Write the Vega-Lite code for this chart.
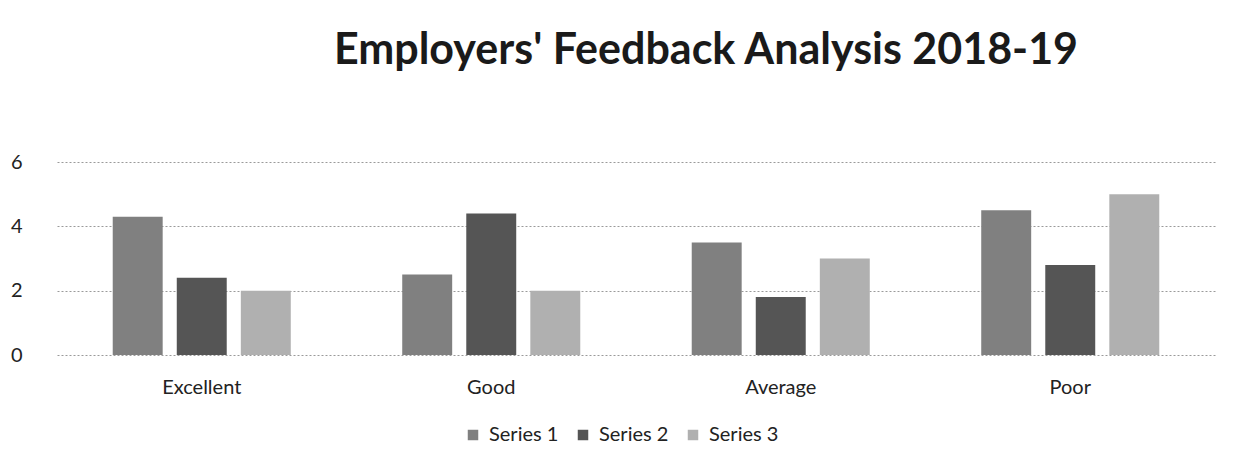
{
  "$schema": "https://vega.github.io/schema/vega-lite/v6.json",
  "autosize": {"type": "none"},
  "width": 1158,
  "height": 193,
  "padding": {"left": 57, "top": 162, "right": 33, "bottom": 120},
  "background": "white",
  "title": {
    "text": "Employers' Feedback Analysis 2018-19",
    "font": "Lato",
    "fontSize": 43,
    "fontWeight": "bold",
    "color": "#1a1a1a",
    "anchor": "middle",
    "offset": 79,
    "dx": 70
  },
  "data": {
    "values": [
      {"category": "Excellent", "series": "Series 1", "value": 4.3},
      {"category": "Excellent", "series": "Series 2", "value": 2.4},
      {"category": "Excellent", "series": "Series 3", "value": 2.0},
      {"category": "Good", "series": "Series 1", "value": 2.5},
      {"category": "Good", "series": "Series 2", "value": 4.4},
      {"category": "Good", "series": "Series 3", "value": 2.0},
      {"category": "Average", "series": "Series 1", "value": 3.5},
      {"category": "Average", "series": "Series 2", "value": 1.8},
      {"category": "Average", "series": "Series 3", "value": 3.0},
      {"category": "Poor", "series": "Series 1", "value": 4.5},
      {"category": "Poor", "series": "Series 2", "value": 2.8},
      {"category": "Poor", "series": "Series 3", "value": 5.0}
    ]
  },
  "mark": {"type": "bar"},
  "encoding": {
    "x": {
      "field": "category",
      "type": "nominal",
      "sort": ["Excellent", "Good", "Average", "Poor"],
      "scale": {"paddingInner": 0.385, "paddingOuter": 0.1925},
      "axis": {
        "title": null,
        "labelAngle": 0,
        "labelFont": "Lato",
        "labelFontSize": 20,
        "labelColor": "#222",
        "labelPadding": 22,
        "ticks": false,
        "domain": false
      }
    },
    "xOffset": {
      "field": "series",
      "type": "nominal",
      "scale": {"paddingInner": 0.22, "paddingOuter": 0}
    },
    "y": {
      "field": "value",
      "type": "quantitative",
      "scale": {"domain": [0, 6], "nice": false},
      "axis": {
        "title": null,
        "values": [0, 2, 4, 6],
        "labelFont": "Lato",
        "labelFontSize": 20,
        "labelColor": "#222",
        "labelPadding": 35,
        "ticks": false,
        "domain": false,
        "gridColor": "#9a9a9a",
        "gridDash": [2, 2],
        "gridWidth": 1
      }
    },
    "color": {
      "field": "series",
      "type": "nominal",
      "scale": {"domain": ["Series 1", "Series 2", "Series 3"], "range": ["#808080", "#555555", "#b0b0b0"]},
      "legend": {
        "title": null,
        "orient": "none",
        "direction": "horizontal",
        "legendX": 406,
        "legendY": 263,
        "symbolType": "square",
        "symbolSize": 110,
        "labelFont": "Lato",
        "labelFontSize": 20,
        "labelColor": "#222",
        "columnPadding": 14,
        "labelOffset": 6
      }
    }
  },
  "config": {"view": {"stroke": null}}
}
